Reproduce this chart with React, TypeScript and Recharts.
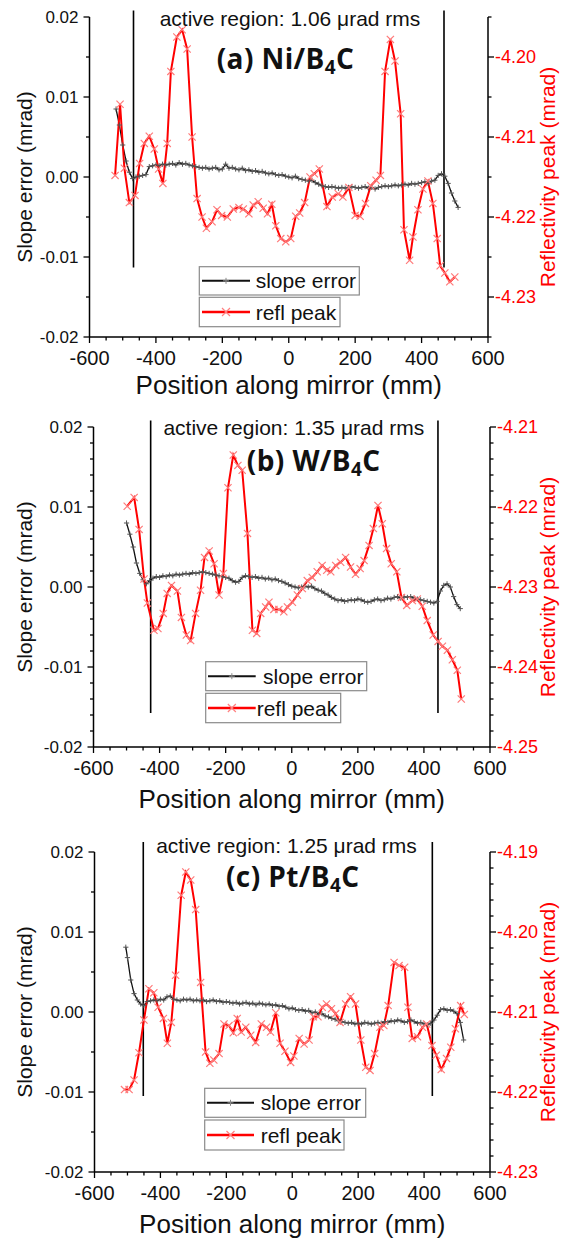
import React from 'react';
import { ComposedChart, Line, XAxis, YAxis, ReferenceLine } from 'recharts';

const FONT = '"Liberation Sans", Arial, Helvetica, sans-serif';
const TITLE_FONT = '"Open Sans", "Liberation Sans", sans-serif';

// ---------- ticks ----------
const xTicks = [-600, -550, -500, -450, -400, -350, -300, -250, -200, -150, -100, -50, 0, 50, 100, 150, 200, 250, 300, 350, 400, 450, 500, 550, 600];
const xMajorTicks = [-600, -400, -200, 0, 200, 400, 600];

const slopeTicksCoarse = [-0.02, -0.015, -0.01, -0.005, 0, 0.005, 0.01, 0.015, 0.02];
const slopeTicksFine = [-0.02, -0.018, -0.016, -0.014, -0.012, -0.01, -0.008, -0.006, -0.004, -0.002, 0, 0.002, 0.004, 0.006, 0.008, 0.01, 0.012, 0.014, 0.016, 0.018, 0.02];
const slopeMajorTicks = [-0.02, -0.01, 0, 0.01, 0.02];

const reflTicksA = [-4.235, -4.23, -4.225, -4.22, -4.215, -4.21, -4.205, -4.2, -4.195];
const reflMajorA = [-4.23, -4.22, -4.21, -4.2];
const reflTicksB = [-4.25, -4.248, -4.246, -4.244, -4.242, -4.24, -4.238, -4.236, -4.234, -4.232, -4.23, -4.228, -4.226, -4.224, -4.222, -4.22, -4.218, -4.216, -4.214, -4.212, -4.21];
const reflMajorB = [-4.25, -4.24, -4.23, -4.22, -4.21];
const reflTicksC = [-4.23, -4.228, -4.226, -4.224, -4.222, -4.22, -4.218, -4.216, -4.214, -4.212, -4.21, -4.208, -4.206, -4.204, -4.202, -4.2, -4.198, -4.196, -4.194, -4.192, -4.19];
const reflMajorC = [-4.23, -4.22, -4.21, -4.2, -4.19];

// ---------- panel (a) Ni/B4C ----------
const slopeXA = [-520, -510, -500, -490, -480, -470, -460, -450, -440, -430, -420, -410, -400, -390, -380, -370, -360, -350, -340, -330, -320, -310, -300, -290, -280, -270, -260, -250, -240, -230, -220, -210, -200, -190, -180, -170, -160, -150, -140, -130, -120, -110, -100, -90, -80, -70, -60, -50, -40, -30, -20, -10, 0, 10, 20, 30, 40, 50, 60, 70, 80, 90, 100, 110, 120, 130, 140, 150, 160, 170, 180, 190, 200, 210, 220, 230, 240, 250, 260, 270, 280, 290, 300, 310, 320, 330, 340, 350, 360, 370, 380, 390, 400, 410, 420, 430, 440, 450, 460, 470, 480, 490, 500, 510];
const slopeYA = [0.0085, 0.0065, 0.004, 0.002, 0.0006, -0.0002, 0.0, 0.0001, 0.0002, 0.0003, 0.0013, 0.0014, 0.0015, 0.0014, 0.0016, 0.0015, 0.0016, 0.0017, 0.0015, 0.0018, 0.0016, 0.0017, 0.0015, 0.0014, 0.0013, 0.0012, 0.0011, 0.0012, 0.001, 0.0011, 0.0012, 0.0009, 0.001, 0.0016, 0.0011, 0.0012, 0.001, 0.0009, 0.0011, 0.0008, 0.0009, 0.0007, 0.0008, 0.0006, 0.0007, 0.0005, 0.0004, 0.0005, 0.0003, 0.0002, 0.0003, 0.0001, 0.0, -0.0001, 0.0001, -0.0002, -0.0003, -0.0004, -0.0005, -0.0004, -0.0007, -0.0009, -0.0011, -0.0012, -0.0013, -0.0012, -0.0013, -0.0014, -0.0013, -0.0014, -0.0013, -0.0012, -0.0013, -0.0014, -0.0013, -0.0012, -0.0014, -0.0013, -0.0015, -0.0013, -0.0012, -0.0011, -0.0012, -0.0011, -0.001, -0.0011, -0.001, -0.0009, -0.001, -0.0008, -0.0009, -0.0008, -0.0007, -0.0006, -0.0008, -0.0005, -0.0004, 0.0002, 0.0004, 0.0001, -0.0008, -0.002, -0.003, -0.0038];
const reflXA = [-523, -508, -495, -480, -463, -449, -435, -420, -405, -392, -379, -366, -355, -337, -321, -306, -291, -276, -261, -248, -231, -216, -202, -185, -167, -150, -137, -120, -107, -92, -77, -64, -51, -39, -24, -9, 6, 21, 33, 48, 64, 77, 92, 115, 131, 149, 163, 181, 200, 215, 231, 247, 263, 276, 290, 306, 320, 337, 347, 364, 374, 389, 404, 419, 434, 447, 456, 470, 485, 500];
const reflYA = [-4.2148, -4.2059, -4.2139, -4.2182, -4.2173, -4.2133, -4.2108, -4.2099, -4.2115, -4.214, -4.2158, -4.2108, -4.2018, -4.1975, -4.1966, -4.199, -4.21, -4.2177, -4.22, -4.2214, -4.2206, -4.2191, -4.2198, -4.22, -4.219, -4.2188, -4.219, -4.2196, -4.2185, -4.2181, -4.2189, -4.2196, -4.2184, -4.2211, -4.2227, -4.2231, -4.2227, -4.2199, -4.2195, -4.2182, -4.215, -4.2146, -4.214, -4.2187, -4.2175, -4.2171, -4.2175, -4.2163, -4.2198, -4.2199, -4.2183, -4.2161, -4.2154, -4.2148, -4.2018, -4.1978, -4.2005, -4.2071, -4.2216, -4.2254, -4.2225, -4.2191, -4.2165, -4.2155, -4.2183, -4.2227, -4.2261, -4.227, -4.2281, -4.2275];

// ---------- panel (b) W/B4C ----------
const slopeXB = [-500, -490, -480, -470, -460, -450, -440, -430, -420, -410, -400, -390, -380, -370, -360, -350, -340, -330, -320, -310, -300, -290, -280, -270, -260, -250, -240, -230, -220, -210, -200, -190, -180, -170, -160, -150, -140, -130, -120, -110, -100, -90, -80, -70, -60, -50, -40, -30, -20, -10, 0, 10, 20, 30, 40, 50, 60, 70, 80, 90, 100, 110, 120, 130, 140, 150, 160, 170, 180, 190, 200, 210, 220, 230, 240, 250, 260, 270, 280, 290, 300, 310, 320, 330, 340, 350, 360, 370, 380, 390, 400, 410, 420, 430, 440, 450, 460, 470, 480, 490, 500, 510];
const slopeYB = [0.008, 0.0066, 0.005, 0.003, 0.0017, 0.0009, 0.0004, 0.0008, 0.0011, 0.0013, 0.0012, 0.0014, 0.0013, 0.0015, 0.0014, 0.0016, 0.0015, 0.0016, 0.0017, 0.0016, 0.0018, 0.0017, 0.0018, 0.0019, 0.0018, 0.0017, 0.0016, 0.0015, 0.0014, 0.0013, 0.0012, 0.0011, 0.0008, 0.0006, 0.0007, 0.0012, 0.0014, 0.0013, 0.0012, 0.0013, 0.0011, 0.0012, 0.001, 0.0011, 0.0009, 0.001, 0.0008, 0.0007, 0.0005, 0.0003, 0.0001, 0.0, -0.0001, 0.0, 0.0001, 0.0, 0.0001, -0.0002, -0.0004, -0.0005, -0.0008, -0.001, -0.0013, -0.0015, -0.0017, -0.0016, -0.0018, -0.0017, -0.0016, -0.0017, -0.0015, -0.0016, -0.0018, -0.0019, -0.0018, -0.0016, -0.0015, -0.0017, -0.0016, -0.0014, -0.0015, -0.0013, -0.0012, -0.0014, -0.0012, -0.0013, -0.0012, -0.0014, -0.0015, -0.0016, -0.0017, -0.0018, -0.0019, -0.002, -0.0018, -0.0005, 0.0002, 0.0004, 0.0, -0.0012, -0.0022, -0.0027];
const reflXB = [-498, -477, -462, -447, -437, -417, -405, -389, -377, -364, -346, -334, -319, -306, -291, -276, -264, -250, -235, -220, -207, -193, -177, -163, -150, -134, -119, -106, -94, -79, -69, -54, -39, -24, -13, 2, 17, 32, 47, 62, 77, 92, 106, 118, 133, 148, 163, 178, 193, 207, 219, 234, 247, 261, 274, 287, 301, 318, 332, 348, 365, 380, 395, 410, 428, 443, 456, 471, 486, 501, 513];
const reflYB = [-4.2199, -4.2188, -4.2228, -4.229, -4.232, -4.2354, -4.2352, -4.2333, -4.2308, -4.2298, -4.2305, -4.2338, -4.236, -4.2367, -4.2333, -4.2304, -4.2263, -4.2255, -4.2271, -4.231, -4.2283, -4.2176, -4.2135, -4.2148, -4.2154, -4.2233, -4.2354, -4.2358, -4.2333, -4.2325, -4.2319, -4.2328, -4.2328, -4.2331, -4.2325, -4.2319, -4.231, -4.2302, -4.2292, -4.2288, -4.2281, -4.2273, -4.2279, -4.2281, -4.2273, -4.2269, -4.2263, -4.2275, -4.2284, -4.2277, -4.2267, -4.2248, -4.2227, -4.2198, -4.2221, -4.2252, -4.2271, -4.2281, -4.2313, -4.2323, -4.2317, -4.2315, -4.2324, -4.2342, -4.236, -4.2368, -4.2374, -4.2379, -4.2391, -4.2404, -4.244];

// ---------- panel (c) Pt/B4C ----------
const slopeXC = [-505, -500, -490, -480, -470, -460, -450, -440, -430, -420, -410, -400, -390, -380, -370, -360, -350, -340, -330, -320, -310, -300, -290, -280, -270, -260, -250, -240, -230, -220, -210, -200, -190, -180, -170, -160, -150, -140, -130, -120, -110, -100, -90, -80, -70, -60, -50, -40, -30, -20, -10, 0, 10, 20, 30, 40, 50, 60, 70, 80, 90, 100, 110, 120, 130, 140, 150, 160, 170, 180, 190, 200, 210, 220, 230, 240, 250, 260, 270, 280, 290, 300, 310, 320, 330, 340, 350, 360, 370, 380, 390, 400, 410, 420, 430, 440, 450, 460, 470, 480, 490, 500, 510, 520];
const slopeYC = [0.0081, 0.0068, 0.004, 0.0023, 0.0015, 0.001, 0.0008, 0.0013, 0.0014, 0.0015, 0.0014, 0.0016, 0.0015, 0.0019, 0.002, 0.0016, 0.0015, 0.0014, 0.0016, 0.0015, 0.0016, 0.0014, 0.0015, 0.0014, 0.0015, 0.0013, 0.0014, 0.0015, 0.0013, 0.0014, 0.0012, 0.0013, 0.0012, 0.0011, 0.0012, 0.001, 0.0011, 0.0012, 0.001, 0.0011, 0.0009, 0.0011, 0.001, 0.0009, 0.001, 0.0008, 0.0009, 0.0007, 0.0008, 0.0006, 0.0004, 0.0005, 0.0003, 0.0002, 0.0003, 0.0001, 0.0002, -0.0001, 0.0, -0.0003, -0.0002, -0.0005, -0.0006, -0.0008, -0.0009, -0.0011, -0.0012, -0.0013, -0.0014, -0.0013, -0.0015, -0.0014, -0.0015, -0.0013, -0.0014, -0.0015, -0.0014, -0.0013, -0.0014, -0.0012, -0.0013, -0.0011, -0.0012, -0.001, -0.0011, -0.0013, -0.0012, -0.001, -0.0012, -0.0014, -0.0013, -0.0015, -0.0016, -0.0014, -0.001, -0.0004, 0.0003, 0.0004, 0.0002, 0.0003, 0.0001, -0.0002, -0.0013, -0.0035];
const reflXC = [-509, -495, -480, -465, -450, -435, -420, -407, -391, -379, -367, -354, -337, -323, -308, -293, -278, -263, -250, -238, -222, -207, -192, -179, -167, -155, -141, -126, -111, -94, -78, -66, -50, -37, -22, -5, 5, 21, 36, 51, 64, 78, 91, 104, 119, 132, 145, 162, 177, 192, 208, 223, 236, 250, 266, 278, 291, 309, 324, 341, 351, 364, 380, 395, 408, 424, 437, 452, 468, 481, 495, 511, 522];
const reflYC = [-4.2197, -4.2197, -4.2185, -4.2151, -4.211, -4.2071, -4.2076, -4.2094, -4.2108, -4.2139, -4.2113, -4.2054, -4.1954, -4.1925, -4.1935, -4.1972, -4.2063, -4.215, -4.2164, -4.216, -4.2152, -4.2115, -4.2117, -4.2126, -4.2108, -4.2125, -4.2119, -4.2129, -4.2138, -4.2115, -4.2119, -4.2125, -4.2101, -4.2139, -4.2149, -4.2163, -4.2155, -4.2133, -4.214, -4.2135, -4.2106, -4.2106, -4.2094, -4.209, -4.2096, -4.2102, -4.2113, -4.209, -4.2081, -4.209, -4.2135, -4.2169, -4.2173, -4.2152, -4.2119, -4.2117, -4.2092, -4.2038, -4.2042, -4.2044, -4.2094, -4.2133, -4.2131, -4.2119, -4.2115, -4.2142, -4.2154, -4.2172, -4.2158, -4.2144, -4.2121, -4.2092, -4.2103];

// active-region boundaries (mm) and their drawn extent (slope units)
const activeA = [-467.5, 467.5];
const activeB = [-427, 442.5];
const activeC = [-452, 425];
const activeSpanA = [0.0208, -0.0113];
const activeSpanB = [0.0208, -0.01575];
const activeSpanC = [0.0215, -0.0105];

const rmsLabels = ['active region: 1.06 μrad rms', 'active region: 1.35 μrad rms', 'active region: 1.25 μrad rms'];
const sampleLabels = ['(a) Ni/B', '(b) W/B', '(c) Pt/B'];
const seriesNames = ['slope error', 'refl peak'];

const isIn = (arr: number[], v: number) => arr.some((m) => Math.abs(m - v) < 1e-9);

const PlusDot = (props: any) => {
  const { cx, cy, index } = props;
  if (cx == null || cy == null) return <g key={`p${index}`} />;
  return <path key={`p${index}`} d={`M${cx - 2.6},${cy}h5.2M${cx},${cy - 2.6}v5.2`} stroke="#555" strokeWidth={1} fill="none" />;
};
const CrossDot = (props: any) => {
  const { cx, cy, index } = props;
  if (cx == null || cy == null) return <g key={`c${index}`} />;
  const r = 3.6;
  return <path key={`c${index}`} d={`M${cx - r},${cy - r}L${cx + r},${cy + r}M${cx - r},${cy + r}L${cx + r},${cy - r}`} stroke="#ff7a7a" strokeWidth={1.2} fill="none" />;
};

const makeYTick = (side: 'left' | 'right', majors: number[], color: string, fontSize: number) => (props: any) => {
  const { x, y, payload } = props;
  const v = payload.value;
  const major = isIn(majors, v);
  const len = major ? 6 : 3.5;
  const dir = side === 'left' ? -1 : 1;
  return (
    <g>
      <line x1={x} y1={y} x2={x + dir * len} y2={y} stroke="#000" strokeWidth={1.3} />
      {major && (
        <text x={side === 'left' ? x - 11 : x + 7} y={y} dy="0.36em" textAnchor={side === 'left' ? 'end' : 'start'} fontSize={fontSize} fill={color} fontFamily={FONT}>
          {v.toFixed(2)}
        </text>
      )}
    </g>
  );
};

const XTick = (props: any) => {
  const { x, y, payload } = props;
  const v = payload.value;
  const major = isIn(xMajorTicks, v);
  return (
    <g>
      <line x1={x} y1={y} x2={x} y2={y + (major ? 6 : 3.5)} stroke="#000" strokeWidth={1.3} />
      {major && (
        <text x={x} y={y + 27.5} textAnchor="middle" fontSize={20} fill="#111" fontFamily={FONT}>
          {String(v)}
        </text>
      )}
    </g>
  );
};

type PanelProps = {
  top: number;
  plotLeft: number;
  plotRight: number;
  slopeX: number[];
  slopeY: number[];
  reflX: number[];
  reflY: number[];
  slopeTicks: number[];
  reflTicks: number[];
  reflMajor: number[];
  active: number[];
  span: number[];
};

function Panel(p: PanelProps) {
  const slopeData = p.slopeX.map((x, i) => ({ x, v: p.slopeY[i] }));
  const reflData = p.reflX.map((x, i) => ({ x, v: p.reflY[i] }));
  const reflDomain = [p.reflTicks[0], p.reflTicks[p.reflTicks.length - 1]];
  const axisLine = { stroke: '#000', strokeWidth: 1.5 };
  return (
    <div style={{ position: 'absolute', left: 0, top: p.top, width: 561, height: 370 }}>
      <ComposedChart width={561} height={370} margin={{ top: 10, right: 0, bottom: 0, left: 0 }}>
        <XAxis xAxisId="x" type="number" dataKey="x" domain={[-600, 600]} ticks={xTicks} interval={0} tickLine={false} tickSize={0} tickMargin={0} axisLine={axisLine} tick={XTick} height={40} allowDataOverflow />
        <YAxis yAxisId="l" orientation="left" type="number" domain={[-0.02, 0.02]} ticks={p.slopeTicks} interval={0} tickLine={false} tickSize={0} tickMargin={0} axisLine={axisLine} tick={makeYTick('left', slopeMajorTicks, '#111', 17)} width={p.plotLeft} allowDataOverflow />
        <YAxis yAxisId="r" orientation="right" type="number" domain={reflDomain} ticks={p.reflTicks} interval={0} tickLine={false} tickSize={0} tickMargin={0} axisLine={axisLine} tick={makeYTick('right', p.reflMajor, '#ff0000', 18)} width={561 - p.plotRight} allowDataOverflow />
        <ReferenceLine xAxisId="x" yAxisId="l" segment={[{ x: p.active[0], y: p.span[0] }, { x: p.active[0], y: p.span[1] }]} stroke="#000" strokeWidth={1.6} ifOverflow="visible" />
        <ReferenceLine xAxisId="x" yAxisId="l" segment={[{ x: p.active[1], y: p.span[0] }, { x: p.active[1], y: p.span[1] }]} stroke="#000" strokeWidth={1.6} ifOverflow="visible" />
        <Line xAxisId="x" yAxisId="l" data={slopeData} dataKey="v" type="linear" stroke="#111" strokeWidth={1.3} dot={PlusDot} activeDot={false} isAnimationActive={false} />
        <Line xAxisId="x" yAxisId="r" data={reflData} dataKey="v" type="linear" stroke="#ff0000" strokeWidth={2} dot={CrossDot} activeDot={false} isAnimationActive={false} />
      </ComposedChart>
    </div>
  );
}

type Deco = {
  plotTop: number; plotLeft: number; plotRight: number;
  rmsX: number; rmsY: number; titleX: number; titleY: number; xTitleY: number;
  box1: number[]; box2: number[]; lineX: number[]; text1X: number; text2X: number;
};

const decos: Deco[] = [
  { plotTop: 17, plotLeft: 89.5, plotRight: 488, rmsX: 290, rmsY: 26, titleX: 285.5, titleY: 69, xTitleY: 394, box1: [199.3, 266.7, 160, 28.3], box2: [199.3, 297.3, 140.7, 29.4], lineX: [202, 250], text1X: 255.7, text2X: 255.7 },
  { plotTop: 427, plotLeft: 93.5, plotRight: 490, rmsX: 293.8, rmsY: 435, titleX: 313.7, titleY: 471, xTitleY: 808, box1: [205.7, 661.7, 161, 29], box2: [205.7, 693.3, 135, 29.4], lineX: [208, 255.7], text1X: 263, text2X: 256.7 },
  { plotTop: 852, plotLeft: 94.5, plotRight: 490, rmsX: 286.5, rmsY: 853, titleX: 292.7, titleY: 887, xTitleY: 1233, box1: [204.7, 1088.3, 161, 29], box2: [204.7, 1120, 139.3, 30], lineX: [207, 254], text1X: 260.7, text2X: 260.7 },
];

function Overlay() {
  return (
    <svg width={561} height={1243} style={{ position: 'absolute', left: 0, top: 0, pointerEvents: 'none' }}>
      {decos.map((d, i) => {
        const midY = d.plotTop + 160;
        const midX = (d.plotLeft + d.plotRight) / 2;
        const cy1 = d.box1[1] + d.box1[3] / 2;
        const cy2 = d.box2[1] + d.box2[3] / 2;
        const lm = (d.lineX[0] + d.lineX[1]) / 2;
        return (
          <g key={i}>
            <text x={d.rmsX} y={d.rmsY} textAnchor="middle" fontSize={21} fontFamily={FONT} fill="#111">{rmsLabels[i]}</text>
            <text x={d.titleX} y={d.titleY} textAnchor="middle" fontSize={28} fontWeight={700} fontFamily={TITLE_FONT} fill="#111" letterSpacing={0.4}>
              {sampleLabels[i]}
              <tspan fontSize={19} dy={5}>4</tspan>
              <tspan dy={-5}>C</tspan>
            </text>
            <text transform={`translate(24,${midY}) rotate(-90)`} textAnchor="middle" dominantBaseline="central" fontSize={21} fontFamily={FONT} fill="#111">Slope error (mrad)</text>
            <text transform={`translate(547,${midY}) rotate(-90)`} textAnchor="middle" dominantBaseline="central" fontSize={21} fontFamily={FONT} fill="#ff0000">Reflectivity peak (mrad)</text>
            <text x={midX} y={d.xTitleY} textAnchor="middle" fontSize={26} fontFamily={FONT} fill="#111">Position along mirror (mm)</text>
            <rect x={d.box1[0]} y={d.box1[1]} width={d.box1[2]} height={d.box1[3]} fill="#fff" stroke="#8a8a8a" strokeWidth={1.2} />
            <line x1={d.lineX[0]} y1={cy1} x2={d.lineX[1]} y2={cy1} stroke="#111" strokeWidth={2} />
            <path d={`M${lm - 3},${cy1}h6M${lm},${cy1 - 3}v6`} stroke="#888" strokeWidth={1} />
            <text x={d.text1X} y={cy1} dy="0.36em" fontSize={21} fontFamily={FONT} fill="#111">{seriesNames[0]}</text>
            <rect x={d.box2[0]} y={d.box2[1]} width={d.box2[2]} height={d.box2[3]} fill="#fff" stroke="#8a8a8a" strokeWidth={1.2} />
            <line x1={d.lineX[0]} y1={cy2} x2={d.lineX[1]} y2={cy2} stroke="#ff0000" strokeWidth={2.5} />
            <path d={`M${lm - 4},${cy2 - 4}L${lm + 4},${cy2 + 4}M${lm - 4},${cy2 + 4}L${lm + 4},${cy2 - 4}`} stroke="#ff8080" strokeWidth={1.2} />
            <text x={d.text2X} y={cy2} dy="0.36em" fontSize={21} fontFamily={FONT} fill="#111">{seriesNames[1]}</text>
          </g>
        );
      })}
    </svg>
  );
}

export default function App() {
  return (
    <div style={{ position: 'absolute', left: 0, top: 0, width: 561, height: 1243, background: '#fff', fontFamily: FONT }}>
      <Panel top={7} plotLeft={89.5} plotRight={488} slopeX={slopeXA} slopeY={slopeYA} reflX={reflXA} reflY={reflYA} slopeTicks={slopeTicksCoarse} reflTicks={reflTicksA} reflMajor={reflMajorA} active={activeA} span={activeSpanA} />
      <Panel top={417} plotLeft={93.5} plotRight={490} slopeX={slopeXB} slopeY={slopeYB} reflX={reflXB} reflY={reflYB} slopeTicks={slopeTicksFine} reflTicks={reflTicksB} reflMajor={reflMajorB} active={activeB} span={activeSpanB} />
      <Panel top={842} plotLeft={94.5} plotRight={490} slopeX={slopeXC} slopeY={slopeYC} reflX={reflXC} reflY={reflYC} slopeTicks={slopeTicksCoarse} reflTicks={reflTicksC} reflMajor={reflMajorC} active={activeC} span={activeSpanC} />
      <Overlay />
    </div>
  );
}
